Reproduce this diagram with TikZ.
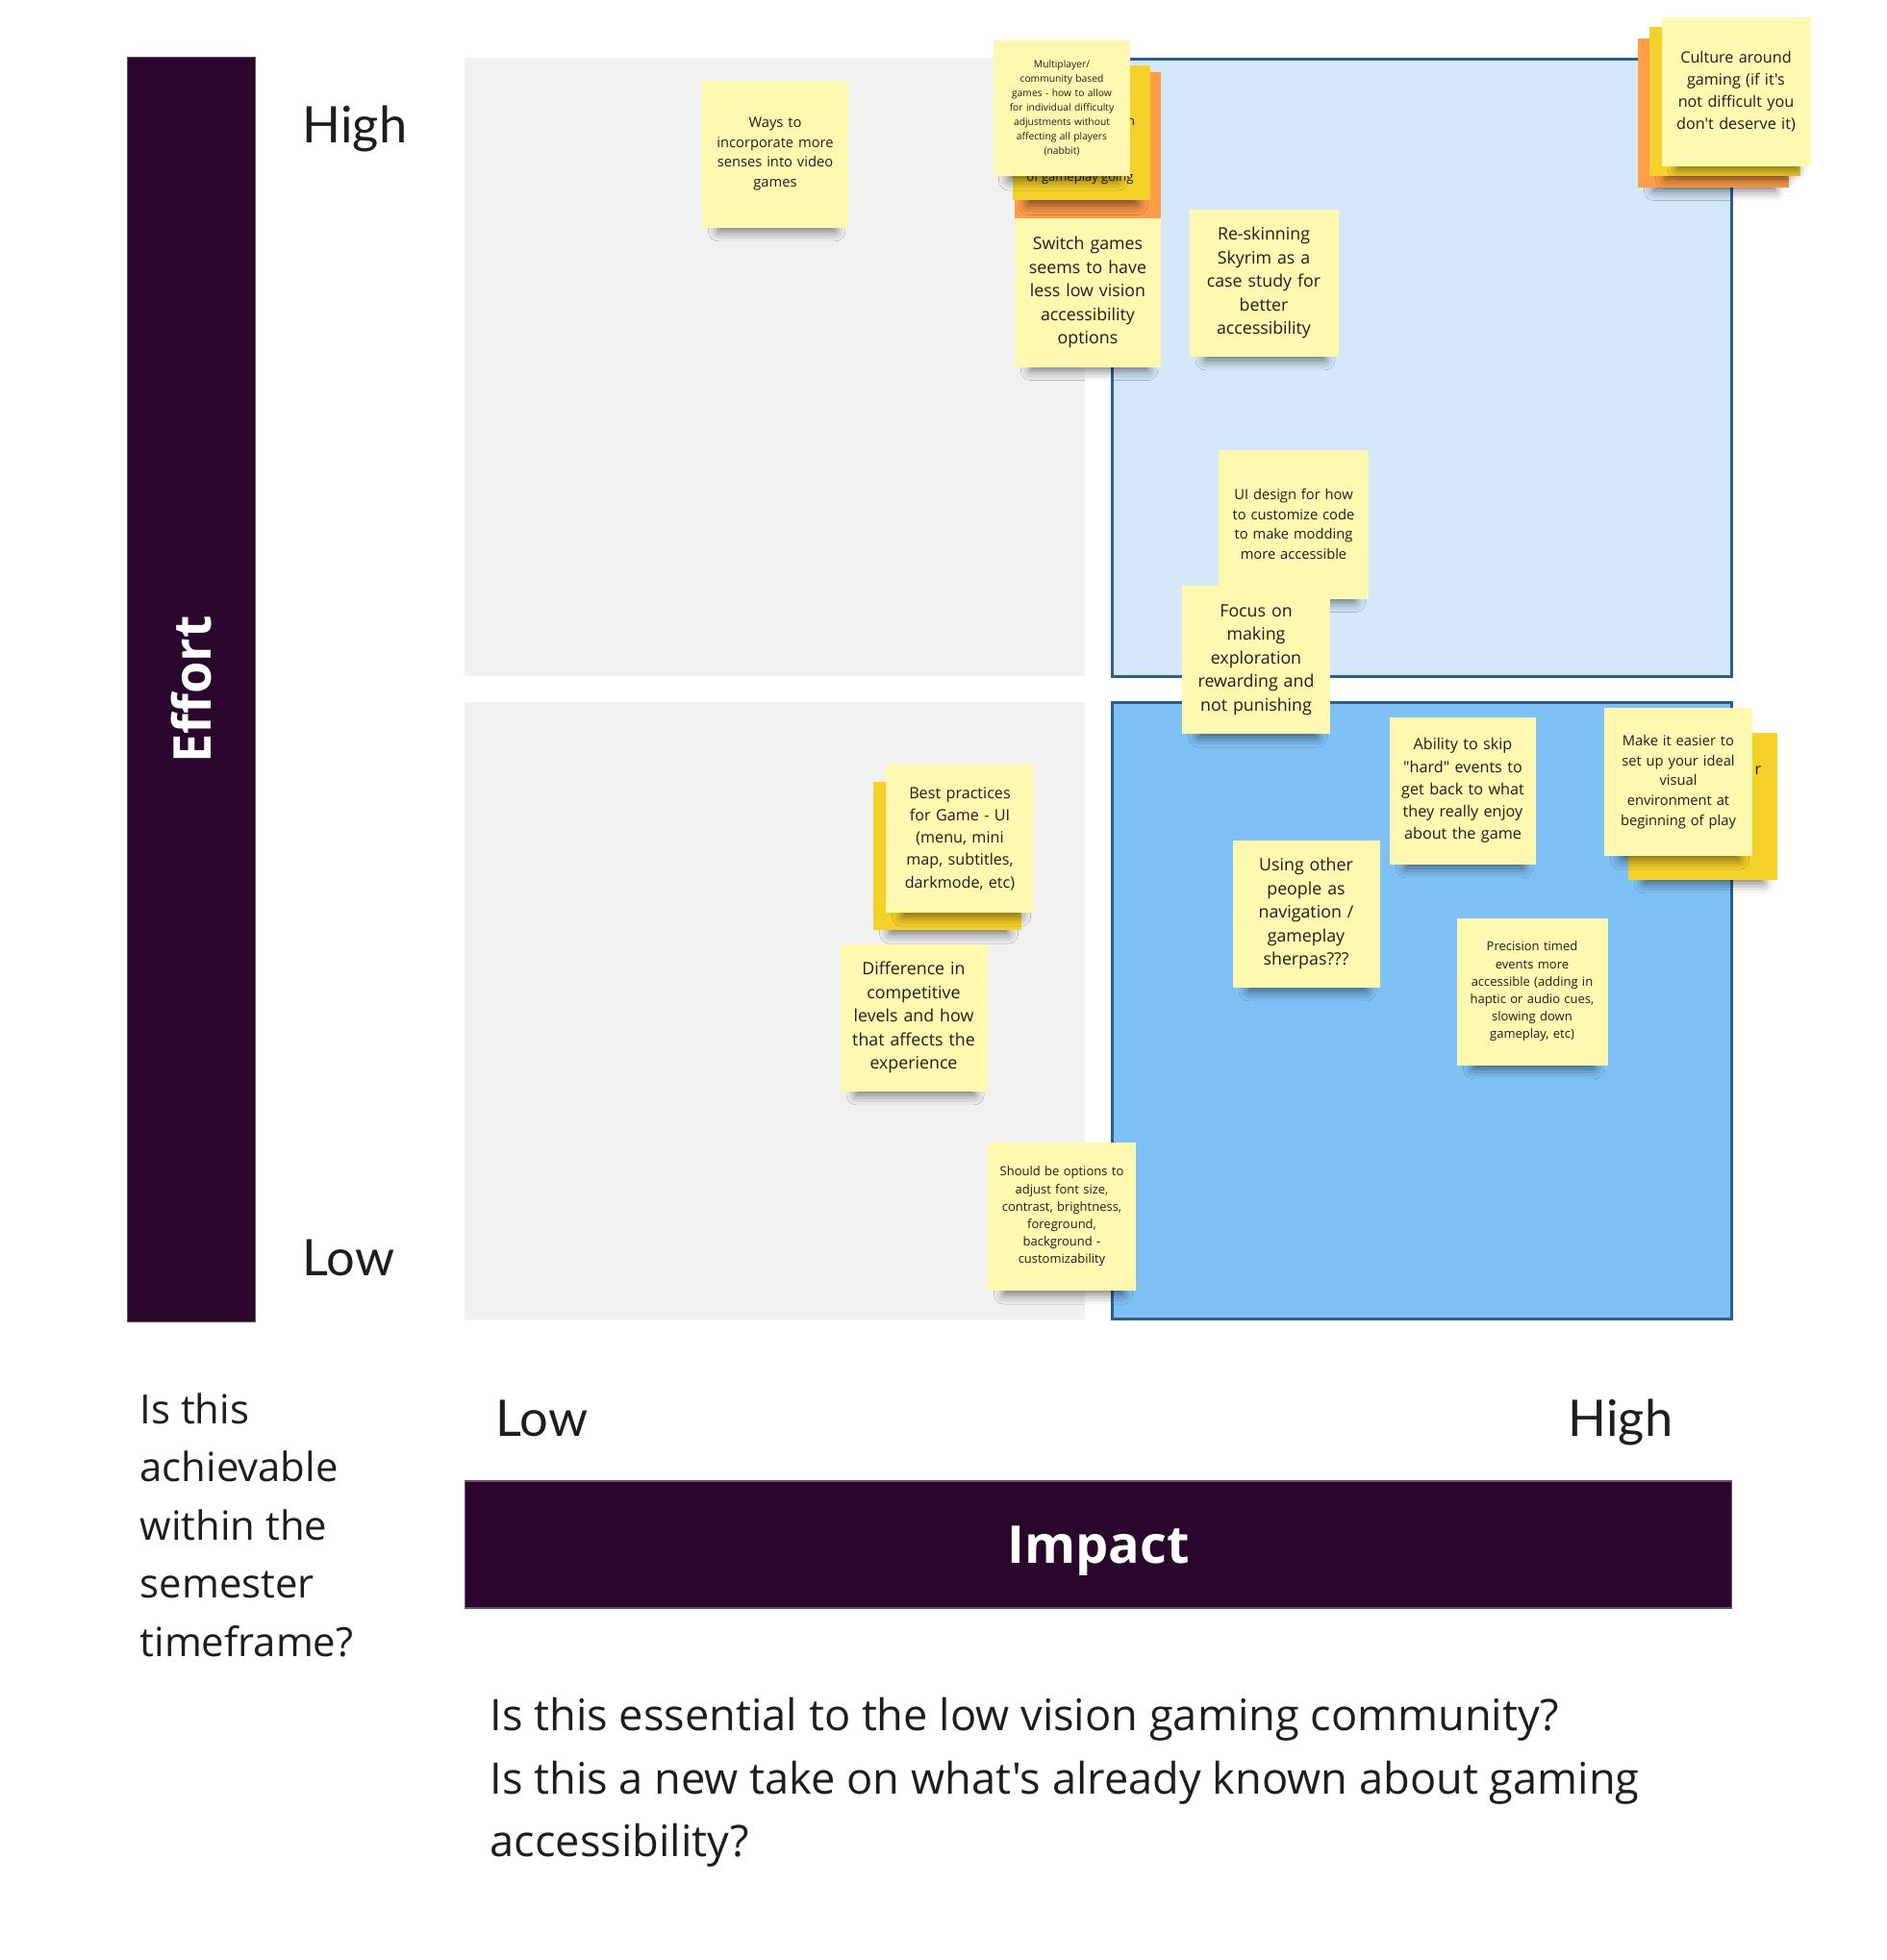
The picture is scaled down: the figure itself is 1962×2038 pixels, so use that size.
\documentclass[tikz,border=0pt]{standalone}
\usepackage{fontspec}
\setmainfont{Open Sans}[Ligatures=TeXOff]
\newfontfamily\latofont{Lato}
\usetikzlibrary{shadows.blur}
\definecolor{effortpurple}{HTML}{2A062C}
\definecolor{quadgray}{HTML}{F1F1F1}
\definecolor{quadlight}{HTML}{D4E8FA}
\definecolor{quadblue}{HTML}{80C1F5}
\definecolor{quadedge}{HTML}{2E5E8E}
\definecolor{stickylight}{HTML}{FFF8B0}
\definecolor{stickydark}{HTML}{F5D12B}
\definecolor{stickyorange}{HTML}{FF9D48}
\definecolor{inktext}{HTML}{1E1E1E}
% sticky note text sizes
\newcommand\fsbig{\fontsize{5.06}{6.97}\selectfont}
\newcommand\fsmid{\fontsize{4.6}{6.6}\selectfont}
\newcommand\fssmall{\fontsize{4.18}{5.86}\selectfont}
\newcommand\fstiny{\fontsize{3.7}{5.18}\selectfont}
\newcommand\fsmini{\fontsize{2.93}{4.27}\selectfont}

\begin{document}
\begin{tikzpicture}[x=0.1mm, y=-0.1mm,
  sticky/.style={rectangle, fill=stickylight, minimum width=15.4mm, minimum height=15.4mm,
    inner sep=0pt, text width=14mm, align=center, text=inktext,
    blur shadow={shadow xshift=0.2mm, shadow yshift=-2.4mm, shadow scale=0.8,
      shadow opacity=55, shadow blur radius=1.3mm}},
  axislabel/.style={font=\latofont\fontsize{14.9}{17}\selectfont, text=inktext, inner sep=0pt},
  bigbar/.style={rectangle, fill=effortpurple, draw=effortpurple!70!white, line width=0.15mm,
    text=white, inner sep=0pt, text depth=0pt, font=\bfseries\fontsize{15.4}{18}\selectfont}]
  \useasboundingbox (0,0) rectangle (1962,2038);
  % quadrants
  \fill[quadgray] (483,60) rectangle (1128,703);
  \fill[quadgray] (483,730) rectangle (1128,1372);
  \draw[quadedge, line width=0.3mm, fill=quadlight] (1156,61) rectangle (1800,703);
  \draw[quadedge, line width=0.3mm, fill=quadblue] (1156,730) rectangle (1800,1371);
  % axis bars
  \node[bigbar, rotate=90, minimum width=131.5mm, minimum height=13.3mm] (effortbar) at (199,717) {Effort};
  \node[bigbar, minimum width=131.7mm, minimum height=13.2mm] (impactbar) at (1142,1606) {Impact};
  % axis labels
  \node[axislabel, anchor=base west] (efforthigh) at (314,148) {High};
  \node[axislabel, anchor=base west] (effortlow) at (314,1326) {Low};
  \node[axislabel, anchor=base west] (impactlow) at (515,1493) {Low};
  \node[axislabel, anchor=base east] (impacthigh) at (1740,1493) {High};
  % questions
  \node[anchor=base west, align=left, inner sep=0pt, text=inktext,
    font=\fontsize{11.9}{17.2}\selectfont] (effortquestion) at (145,1722)
    {Is this\\achievable\\within the\\semester\\timeframe?};
  \node[anchor=base west, align=left, inner sep=0pt, text=inktext,
    font=\fontsize{12.85}{18.5}\selectfont] (impactquestion) at (509,1930)
    {Is this essential to the low vision gaming community?\\Is this a new take on what's already known about gaming\\accessibility?};
  % sticky notes, low impact side
  \node[sticky, minimum width=15.2mm, minimum height=15.3mm, font=\fssmall] (waysnote) at (806,160)
    {Ways to\\incorporate more\\senses into video\\games};
  \node[sticky, fill=stickydark, font=\fsmid] (bestback) at (985,890) {};
  \node[sticky, font=\fsmid] (bestnote) at (998,872)
    {Best practices\\for Game - UI\\(menu, mini\\map, subtitles,\\darkmode, etc)};
  \node[sticky, minimum width=15.3mm, minimum height=15.3mm, font=\fsbig] (diffnote) at (950,1058)
    {Difference in\\competitive\\levels and how\\that affects the\\experience};
  \node[sticky, font=\fstiny] (fontnote) at (1104,1265)
    {Should be options to\\adjust font size,\\contrast, brightness,\\foreground,\\background -\\customizability};
  % stack at the top of the middle
  \node[sticky, fill=stickyorange, minimum width=15.2mm, minimum height=15.2mm] (multiorange) at (1131,151) {};
  \node[sticky, fill=stickydark, minimum width=14.3mm, minimum height=14mm] (multiback) at (1124,138) {};
  \node[anchor=base, inner sep=0pt, font=\fstiny, text=inktext] (multihidden) at (1123,188) {of gameplay going};
  \node[anchor=base, inner sep=0pt, font=\fstiny, text=inktext] (multiletter) at (1176,130) {n};
  \node[sticky, minimum width=14.2mm, minimum height=14.1mm, font=\fsmini] (multinote) at (1104,112)
    {Multiplayer/\\community based\\games - how to allow\\for individual difficulty\\adjustments without\\affecting all players\\(nabbit)};
  \node[sticky, minimum width=15.2mm, minimum height=15.5mm, font=\fsbig] (switchnote) at (1131,304)
    {Switch games\\seems to have\\less low vision\\accessibility\\options};
  % high impact side
  \node[sticky, minimum width=15.5mm, minimum height=15.3mm, font=\fsbig] (reskinnote) at (1314,294)
    {Re-skinning\\Skyrim as a\\case study for\\better\\accessibility};
  \node[sticky, fill=stickyorange, minimum width=15.7mm, minimum height=15.5mm] (cultureorange) at (1781,117) {};
  \node[sticky, fill=stickydark, minimum width=15.7mm, minimum height=15.5mm] (cultureback) at (1793,105) {};
  \node[sticky, minimum width=15.5mm, minimum height=15.5mm, font=\fsmid] (culturenote) at (1805,95)
    {Culture around\\gaming (if it's\\not difficult you\\don't deserve it)};
  \node[sticky, minimum width=15.6mm, minimum height=15.5mm, font=\fssmall] (uinote) at (1345,545)
    {UI design for how\\to customize code\\to make modding\\more accessible};
  \node[sticky, font=\fsbig] (focusnote) at (1306,686)
    {Focus on\\making\\exploration\\rewarding and\\not punishing};
  \node[sticky, minimum width=15.2mm, minimum height=15.3mm, font=\fsmid] (skipnote) at (1521,822)
    {Ability to skip\\"hard" events to\\get back to what\\they really enjoy\\about the game};
  \node[sticky, fill=stickydark, minimum width=15.5mm, minimum height=15.3mm] (setupback) at (1770,838) {};
  \node[anchor=base, inner sep=0pt, font=\fsmid, text=inktext] (setupletter) at (1828,805) {r};
  \node[sticky, font=\fssmall] (setupnote) at (1745,813)
    {Make it easier to\\set up your ideal\\visual\\environment at\\beginning of play};
  \node[sticky, minimum width=15.3mm, minimum height=15.3mm, font=\fsbig] (sherpanote) at (1358,950)
    {Using other\\people as\\navigation /\\gameplay\\sherpas???};
  \node[sticky, minimum width=15.7mm, minimum height=15.3mm, font=\fstiny] (timednote) at (1593,1031)
    {Precision timed\\events more\\accessible (adding in\\haptic or audio cues,\\slowing down\\gameplay, etc)};
\end{tikzpicture}
\end{document}
